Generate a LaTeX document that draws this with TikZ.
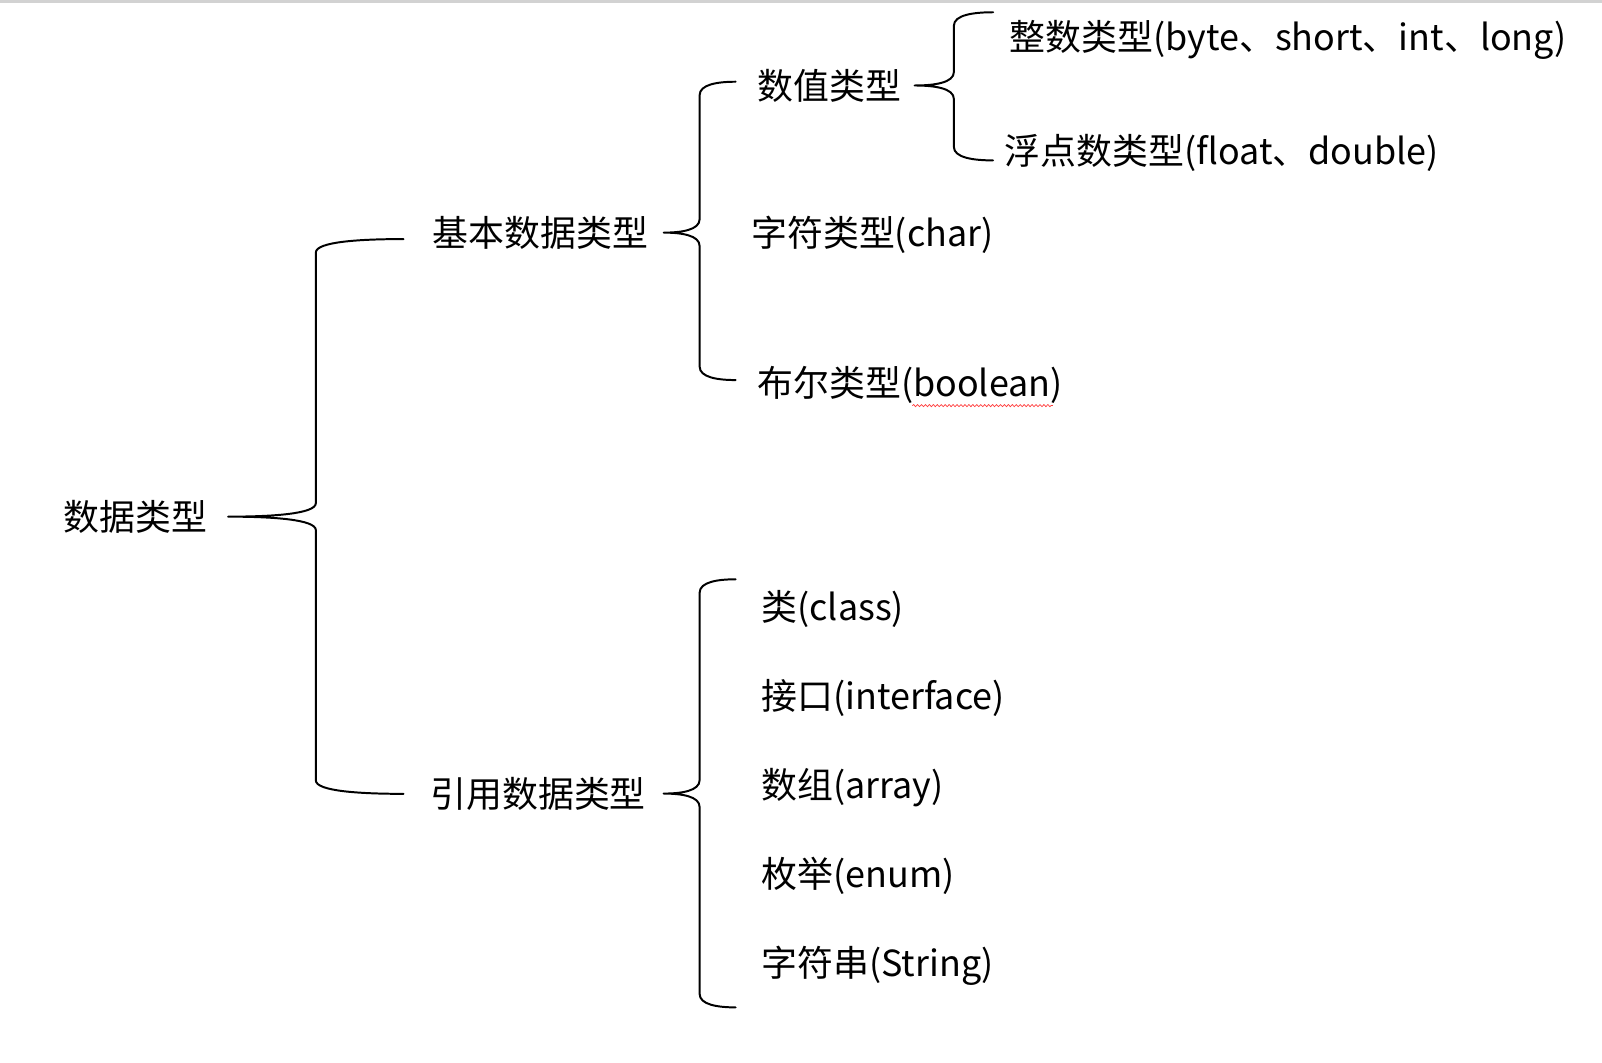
\documentclass[tikz,border=0pt]{standalone}
\usepackage{fontspec}
\newfontfamily\cjk{Noto Sans CJK SC}
\usetikzlibrary{calc,decorations.pathmorphing}

\tikzset{
	typ/.style={anchor=base west, inner sep=0pt, font=\cjk\fontsize{20pt}{24pt}\selectfont},
	brace/.style={line width=1.1pt, line cap=round, line join=round},
	squiggle/.style={red!75, line width=0.4pt, decorate, decoration={snake, amplitude=0.6pt, segment length=2.2pt}},
}

% curly bracket: #1 tip, #2 top end, #3 bottom end
\newcommand{\drawbrace}[3]{%
	\draw[brace] let \p1=(#1), \p2=(#2), \p3=(#3), \p4=($(\p1)!0.5!(\p2)$) in
		(\p2) .. controls ({\x4+0.5*(\x2-\x4)},\y2) and (\x4,{\y2-1.5pt}) .. (\x4,{\y2-7.5pt})
		-- (\x4,{\y1+7.5pt})
		.. controls (\x4,{\y1+1.5pt}) and ({\x4-0.5*(\x4-\x1)},\y1) .. (\p1)
		.. controls ({\x4-0.5*(\x4-\x1)},\y1) and (\x4,{\y1-1.5pt}) .. (\x4,{\y1-7.5pt})
		-- (\x4,{\y3+7.5pt})
		.. controls (\x4,{\y3+1.5pt}) and ({\x4+0.5*(\x3-\x4)},\y3) .. (\p3);
}

\begin{document}
\begin{tikzpicture}[x=0.02cm, y=-0.02cm]
		\useasboundingbox (0,0) rectangle (1568,1040);
		\draw[gray!35, line width=1.2pt] (0,1.5) -- (1568,1.5);
		
		\node[typ] (root) at (62,519) {数据类型};
		
		\node[typ] (prim) at (423,241) {基本数据类型};
		\node[typ] (refr) at (421,790) {引用数据类型};
		
		\node[typ] (num) at (741,97) {数值类型};
		\node[typ] (chr) at (735,241) {字符类型(char)};
		\node[typ] (bool) at (741,388) {布尔类型(boolean)};
		
		\node[typ] (int) at (988,49) {整数类型(byte、short、int、long)};
		\node[typ] (flt) at (983,161) {浮点数类型(float、double)};
		
		\node[typ] (cls) at (745,607) {类(class)};
		\node[typ] (itf) at (745,694) {接口(interface)};
		\node[typ] (arr) at (745,782) {数组(array)};
		\node[typ] (enm) at (745,869) {枚举(enum)};
		\node[typ] (str) at (745,956) {字符串(String)};
		
		% tips and free ends of the brackets
		\coordinate (t1) at ($(root.east)+(20,0)$);
		\coordinate (a1) at (395,234);
		\coordinate (z1) at (395,777);
		\coordinate (t2) at ($(prim.east)+(15,0)$);
		\coordinate (a2) at (720,80);
		\coordinate (z2) at (720,372);
		\coordinate (t3) at ($(num.east)+(13,0)$);
		\coordinate (a3) at (972,12);
		\coordinate (z3) at (972,157);
		\coordinate (t4) at ($(refr.east)+(17,0)$);
		\coordinate (a4) at (720,567);
		\coordinate (z4) at (720,986);
		
		\drawbrace{t1}{a1}{z1}
		\drawbrace{t2}{a2}{z2}
		\drawbrace{t3}{a3}{z3}
		\drawbrace{t4}{a4}{z4}
		
		\draw[squiggle] ($(bool.base west)+(152,9)$) -- ($(bool.base east)+(-10,9)$);
	\end{tikzpicture}
\end{document}
